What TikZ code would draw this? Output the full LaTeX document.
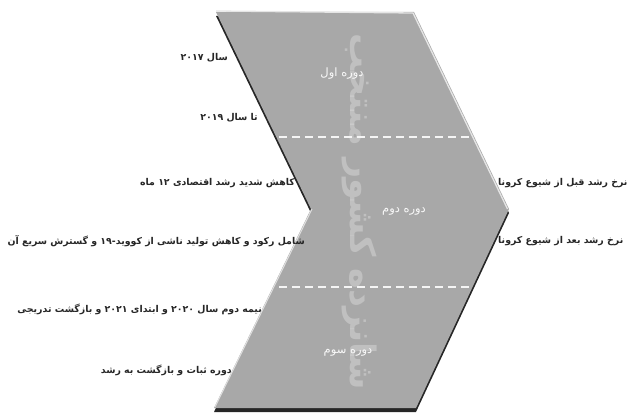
\documentclass[tikz,border=0pt]{standalone}
\usepackage{fontspec}
\newfontfamily\arabicfont[Script=Arabic]{DejaVu Sans}
\TeXXeTstate=1
\begin{document}
\begin{tikzpicture}[x=1pt,y=-1pt,
  lbl/.style={font=\arabicfont\bfseries\fontsize{9.4}{10}\selectfont, text=black!85, inner sep=1pt},
  period/.style={font=\arabicfont\fontsize{11.5}{13}\selectfont, text=white!95!gray, inner sep=1pt},
  watermk/.style={font=\arabicfont\bfseries\fontsize{35}{40}\selectfont, text=white, opacity=0.28, inner sep=0pt},
  divider/.style={draw=white!92!gray, line width=1.6pt, dash pattern=on 8pt off 5pt}]
\useasboundingbox (0,0) rectangle (644,414);
% chevron corners
\coordinate (A) at (216,12);
\coordinate (B) at (414,12);
\coordinate (C) at (509,209);
\coordinate (D) at (416,408);
\coordinate (E) at (214,408);
\coordinate (F) at (311,209);
% shadow
\fill[black!85] ([shift={(0,4)}]A) -- ([shift={(0,4)}]B) -- ([shift={(0,4)}]C) -- ([shift={(0,4)}]D) -- ([shift={(0,4)}]E) -- ([shift={(0,4)}]F) -- cycle;
% body
\fill[gray!68] (A) -- (B) -- (C) -- (D) -- (E) -- (F) -- cycle;
% highlights
\draw[white!80!gray, line width=1.3pt] ([yshift=1]A) -- ([shift={(-1,1)}]B) -- ([xshift=-1.5]C);
\draw[white!75!gray, line width=1pt] ([shift={(1,-1)}]E) -- ([xshift=1]F);
% watermark
\node[watermk, rotate=-90] (wm) at (360,212) {\beginR شانزده کشور منتخب\endR};
% dividers
\coordinate (d1l) at (279,137); \coordinate (d1r) at (472,137);
\coordinate (d2l) at (279,287); \coordinate (d2r) at (472,287);
\draw[divider] (d1l) -- (d1r);
\draw[divider] (d2l) -- (d2r);
% period titles
\node[period] (p1) at (342,74) {\beginR دوره اول\endR};
\node[period] (p2) at (404,212) {\beginR دوره دوم\endR};
\node[period] (p3) at (348,353) {\beginR دوره سوم\endR};
% left labels
\node[lbl, anchor=east] (l1) at (229,58) {\beginR سال ۲۰۱۷\endR};
\node[lbl, anchor=east] (l2) at (259,118) {\beginR تا سال ۲۰۱۹\endR};
\node[lbl, anchor=east] (l3) at (296,183) {\beginR کاهش شدید رشد اقتصادی ۱۲ ماه\endR};
\node[lbl, anchor=east] (l4) at (306,241) {\beginR شامل رکود و کاهش تولید ناشی از کووید-۱۹ و گسترش سریع آن\endR};
\node[lbl, anchor=east] (l5) at (263,309) {\beginR نیمه دوم سال ۲۰۲۰ و ابتدای ۲۰۲۱ و بازگشت تدریجی\endR};
\node[lbl, anchor=east] (l6) at (233,370) {\beginR دوره ثبات و بازگشت به رشد\endR};
% right labels
\node[lbl, anchor=west] (r1) at (497,183) {\beginR نرخ رشد قبل از شیوع کرونا\endR};
\node[lbl, anchor=west] (r2) at (497,241) {\beginR نرخ رشد بعد از شیوع کرونا\endR};
\end{tikzpicture}
\end{document}
